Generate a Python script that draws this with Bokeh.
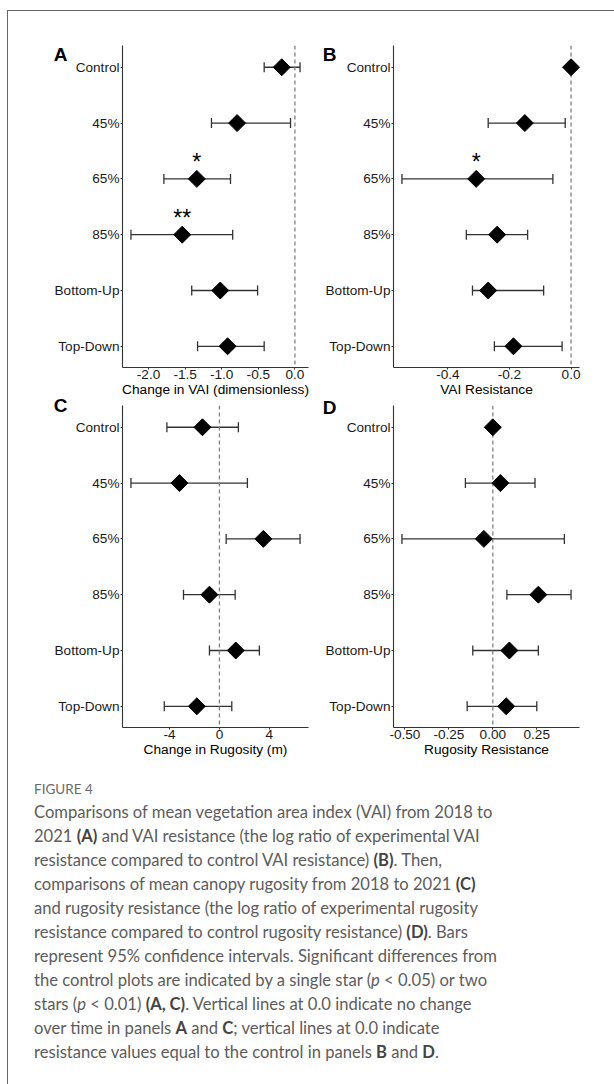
import math
from bokeh.plotting import figure
from bokeh.models import (Range1d, FixedTicker, NumeralTickFormatter, Whisker, TeeHead,
                          Span, ColumnDataSource, Div, LinearAxis, CustomJSTickFormatter)
from bokeh.layouts import row, column
from bokeh.embed import file_html
from bokeh.resources import INLINE
from bokeh.core.properties import value

categories = ["Control", "45%", "65%", "85%", "Bottom-Up", "Top-Down"]

vai_change_mean = [-0.18, -0.79, -1.34, -1.54, -1.02, -0.92]
vai_change_lower = [-0.42, -1.14, -1.79, -2.24, -1.41, -1.33]
vai_change_upper = [0.07, -0.06, -0.88, -0.85, -0.51, -0.42]
vai_change_sig = ["", "", "*", "**", "", ""]

vai_res_mean = [0.0, -0.150, -0.308, -0.240, -0.269, -0.187]
vai_res_lower = [0.0, -0.269, -0.549, -0.340, -0.320, -0.249]
vai_res_upper = [0.0, -0.019, -0.059, -0.141, -0.089, -0.029]
vai_res_sig = ["", "", "*", "", "", ""]

rug_change_mean = [-1.36, -3.20, 3.52, -0.80, 1.31, -1.81]
rug_change_lower = [-4.21, -7.09, 0.54, -2.88, -0.80, -4.42]
rug_change_upper = [1.52, 2.24, 6.46, 1.26, 3.20, 0.99]
rug_change_sig = ["", "", "", "", "", ""]

rug_res_mean = [0.0, 0.043, -0.051, 0.259, 0.094, 0.076]
rug_res_lower = [0.0, -0.156, -0.517, 0.080, -0.114, -0.146]
rug_res_upper = [0.0, 0.240, 0.407, 0.445, 0.259, 0.250]
rug_res_sig = ["", "", "", "", "", ""]

FONT = "Liberation Sans"
FW, FH = 186, 322
Y0, Y1 = 5.38, -0.39


def make_panel(letter, mean, lower, upper, sig, xlabel, ticks, fmt,
               left, right, top, bottom, letter_standoff, letter_y, transparent=False):
    xmin, xmax = min(lower), max(upper)
    pad = 0.05 * (xmax - xmin)
    xr = Range1d(xmin - pad, xmax + pad)
    p = figure(frame_width=FW, frame_height=FH, x_range=xr, y_range=Range1d(Y0, Y1),
               output_backend="svg", toolbar_location=None,
               min_border_left=left, min_border_right=right,
               min_border_top=top, min_border_bottom=bottom)
    p.outline_line_color = None
    p.xgrid.visible = False
    p.ygrid.visible = False
    p.background_fill_color = "white"
    p.border_fill_color = None if transparent else "white"

    idx = list(range(len(categories)))

    p.add_layout(Span(location=0, dimension="height", line_color="#808080",
                      line_dash="4 3", line_width=1.3))

    src = ColumnDataSource(dict(y=idx, lower=lower, upper=upper))
    p.add_layout(Whisker(source=src, base="y", lower="lower", upper="upper",
                         dimension="width", line_color="#333333", line_width=1.3,
                         upper_head=TeeHead(size=10, line_color="#333333", line_width=1.3),
                         lower_head=TeeHead(size=10, line_color="#333333", line_width=1.3),
                         level="glyph"))

    p.scatter(x=mean, y=idx, marker="square", angle=math.pi / 4, size=12,
              fill_color="black", line_color="black", level="overlay")

    sx, sy, st = [], [], []
    for m, i, s in zip(mean, idx, sig):
        if s:
            sx.append(m)
            sy.append(i - 0.30)
            st.append(s)
    if st:
        p.text(x=sx, y=sy, text=st, text_font=value(FONT), text_font_size="23px",
               text_align="center", text_baseline="alphabetic", text_color="black")

    # axes
    p.xaxis.ticker = FixedTicker(ticks=ticks)
    p.xaxis.formatter = NumeralTickFormatter(format=fmt)
    p.yaxis.ticker = FixedTicker(ticks=idx)
    p.yaxis.major_label_overrides = {i: c for i, c in zip(idx, categories)}
    for ax in (p.xaxis[0], p.yaxis[0]):
        ax.axis_line_color = "#333333"
        ax.axis_line_width = 1.1
        ax.major_tick_line_color = "#333333"
        ax.major_tick_out = 2
        ax.major_tick_in = 0
        ax.minor_tick_line_color = None
        ax.major_label_text_font = FONT
        ax.major_label_text_font_size = "13.6px"
        ax.major_label_text_color = "#1a1a1a"
        ax.major_label_standoff = 1
    p.xaxis.major_label_standoff = 0
    p.xaxis.axis_label = xlabel
    p.xaxis.axis_label_text_font = FONT
    p.xaxis.axis_label_text_font_size = "13.7px"
    p.xaxis.axis_label_text_font_style = "normal"
    p.xaxis.axis_label_text_color = "black"
    p.xaxis.axis_label_standoff = 0

    # panel letter, carried by an outer label-only axis on the left
    letter_axis = LinearAxis(ticker=FixedTicker(ticks=[letter_y]),
                             formatter=CustomJSTickFormatter(code="return '%s'" % letter),
                             axis_line_color=None, major_tick_line_color=None,
                             minor_tick_line_color=None, major_tick_out=0, major_tick_in=0,
                             major_label_standoff=letter_standoff,
                             major_label_text_font=FONT, major_label_text_font_size="19px",
                             major_label_text_font_style="bold",
                             major_label_text_color="black")
    p.add_layout(letter_axis, "left")
    return p


pa = make_panel("A", vai_change_mean, vai_change_lower, vai_change_upper, vai_change_sig,
                "Change in VAI (dimensionless)", [-2.0, -1.5, -1.0, -0.5, 0.0], "0.0",
                114, 2, 34, 34, -16, -0.22)
pb = make_panel("B", vai_res_mean, vai_res_lower, vai_res_upper, vai_res_sig,
                "VAI Resistance", [-0.4, -0.2, 0.0], "0.0",
                83, 20, 34, 34, -14, -0.22)
pc = make_panel("C", rug_change_mean, rug_change_lower, rug_change_upper, rug_change_sig,
                "Change in Rugosity (m)", [-4, 0, 4], "0",
                114, 2, 12, 34, -16, -0.385, transparent=True)
pd_ = make_panel("D", rug_res_mean, rug_res_lower, rug_res_upper, rug_res_sig,
                 "Rugosity Resistance", [-0.50, -0.25, 0.0, 0.25], "0.00",
                 83, 20, 12, 34, -14, -0.355, transparent=True)

caption_lines = [
    "Comparisons of mean vegetation area index (VAI) from 2018 to",
    "2021 <b>(A)</b> and VAI resistance (the log ratio of experimental VAI",
    "resistance compared to control VAI resistance) <b>(B)</b>. Then,",
    "comparisons of mean canopy rugosity from 2018 to 2021 <b>(C)</b>",
    "and rugosity resistance (the log ratio of experimental rugosity",
    "resistance compared to control rugosity resistance) <b>(D)</b>. Bars",
    "represent 95% confidence intervals. Significant differences from",
    "the control plots are indicated by a single star (<i>p</i> &lt; 0.05) or two",
    "stars (<i>p</i> &lt; 0.01) <b>(A, C)</b>. Vertical lines at 0.0 indicate no change",
    "over time in panels <b>A</b> and <b>C</b>; vertical lines at 0.0 indicate",
    "resistance values equal to the control in panels <b>B</b> and <b>D</b>.",
]
caption_html = (
    '<div style="font-family:Lato; color:#5c5c5c; font-size:16.6px; line-height:24px;'
    ' white-space:nowrap; padding:12px 0 0 21px;">'
    '<div style="font-size:13.5px; line-height:22px; color:#6a6a6a;">FIGURE 4</div>'
    + "<br>".join(l.replace("<b>", '<b style="color:#444">') for l in caption_lines)
    + "</div>"
)
cap = Div(text=caption_html, width=590, height=300)

layout = column(row(pa, pb), row(pc, pd_, margin=(-8, 0, 0, 0)), cap,
                width=607, height=1074, margin=(10, 0, 0, 7),
                styles={"border-top": "1px solid #666", "border-left": "1px solid #666",
                        "background-color": "white"})

open("out.html", "w").write(file_html(layout, INLINE))
